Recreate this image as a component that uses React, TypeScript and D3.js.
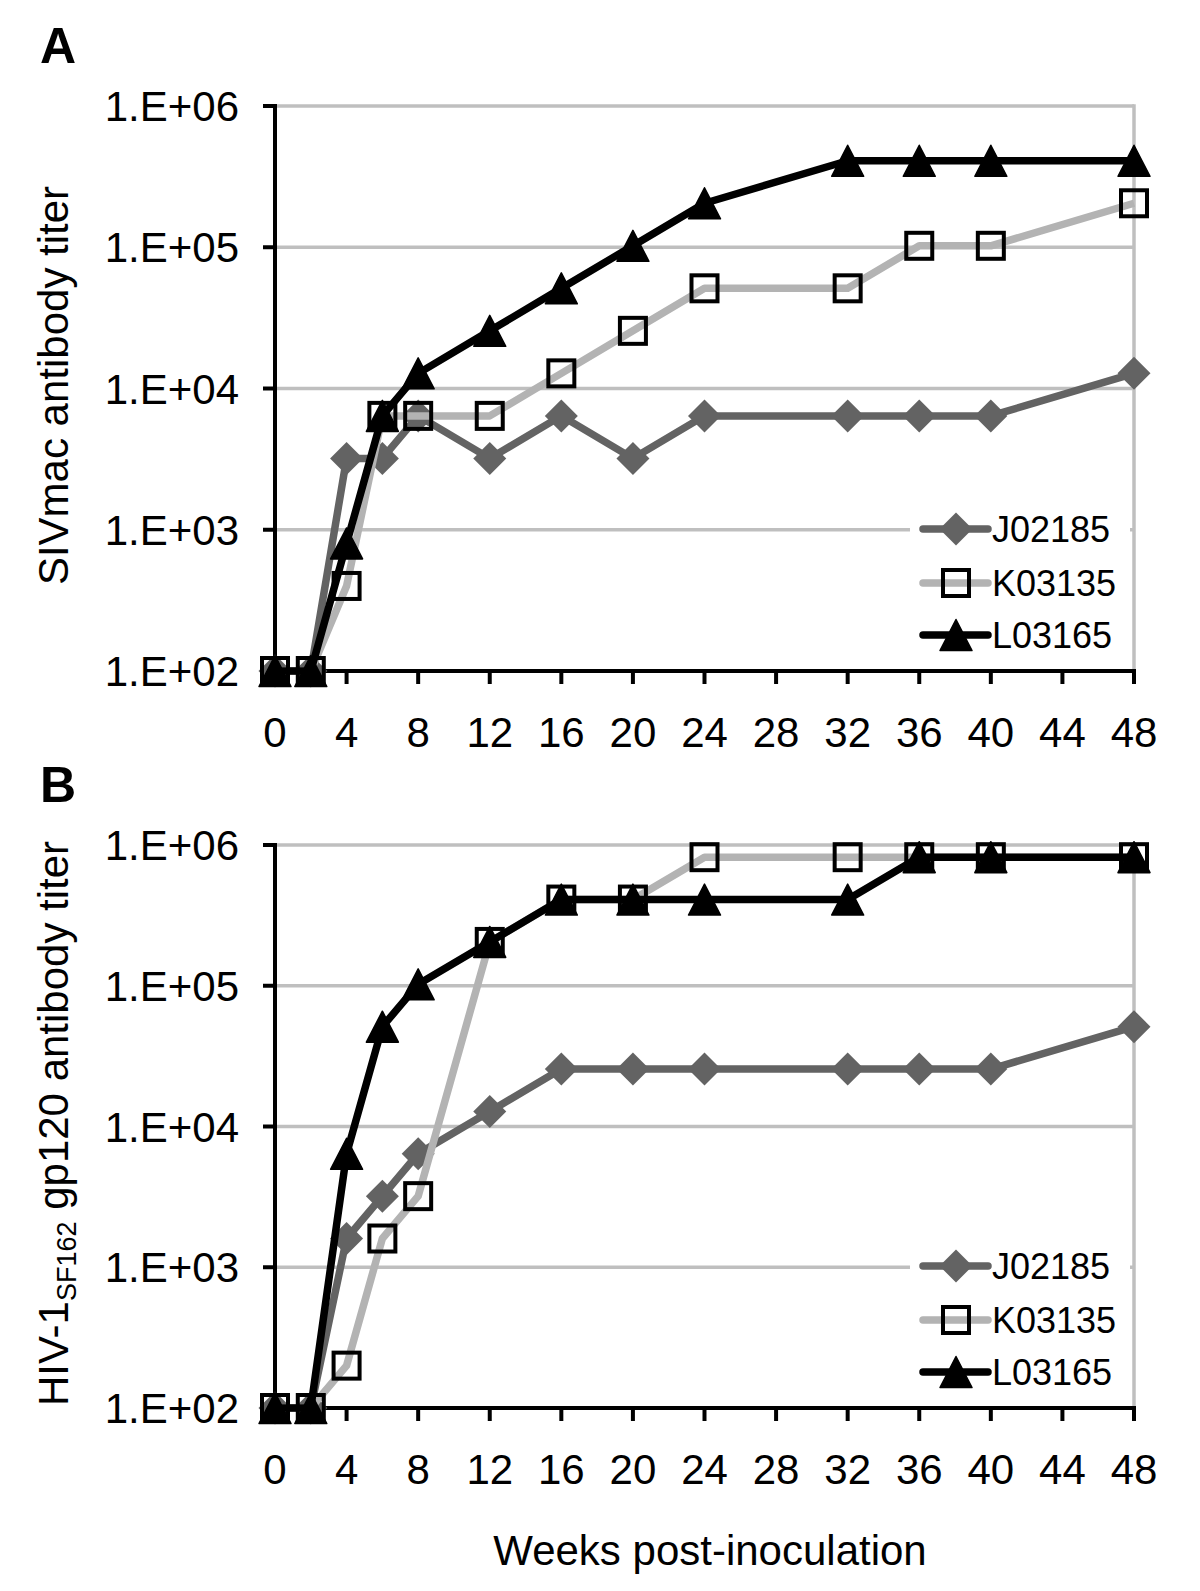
import React from "react";
import * as d3 from "d3";

const weeks = [0, 2, 4, 6, 8, 12, 16, 20, 24, 32, 36, 40, 48];
const xTicks = [0, 4, 8, 12, 16, 20, 24, 28, 32, 36, 40, 44, 48];
const yTicks = [1e2, 1e3, 1e4, 1e5, 1e6];
const yTickLabels = ["1.E+02", "1.E+03", "1.E+04", "1.E+05", "1.E+06"];
const seriesNames = ["J02185", "K03135", "L03165"];

const aJ02185 = [100, 100, 3200, 3200, 6400, 3200, 6400, 3200, 6400, 6400, 6400, 6400, 12800];
const aK03135 = [100, 100, 400, 6400, 6400, 6400, 12800, 25600, 51200, 51200, 102400, 102400, 204800];
const aL03165 = [100, 100, 800, 6400, 12800, 25600, 51200, 102400, 204800, 409600, 409600, 409600, 409600];

const bJ02185 = [100, 100, 1600, 3200, 6400, 12800, 25600, 25600, 25600, 25600, 25600, 25600, 51200];
const bK03135 = [100, 100, 200, 1600, 3200, 204800, 409600, 409600, 819200, 819200, 819200, 819200, 819200];
const bL03165 = [100, 100, 6400, 51200, 102400, 204800, 409600, 409600, 409600, 409600, 819200, 819200, 819200];

const FONT = "'Liberation Sans', Arial, Helvetica, sans-serif";
const styles = [
  { color: "#636363", marker: "diamond" },
  { color: "#b3b3b3", marker: "square" },
  { color: "#000000", marker: "triangle" },
];

function Marker({ type, x, y }: { type: string; x: number; y: number }) {
  if (type === "diamond") {
    const w = 16.5, h = 16.5;
    return <path d={`M${x},${y - h}L${x + w},${y}L${x},${y + h}L${x - w},${y}Z`} fill="#636363" />;
  }
  if (type === "square") {
    const s = 13;
    return <rect x={x - s} y={y - s} width={2 * s} height={2 * s} fill="none" stroke="#000" strokeWidth={4} />;
  }
  const w = 16, h = 15.5;
  return (
    <path
      d={`M${x},${y - h}L${x + w},${y + h}L${x - w},${y + h}Z`}
      fill="#000"
      stroke="#000"
      strokeWidth={1.5}
      strokeLinejoin="round"
    />
  );
}

function Panel({
  data,
  yTop,
  yBottom,
  label,
  labelY,
  title,
}: {
  data: number[][];
  yTop: number;
  yBottom: number;
  label: string;
  labelY: number;
  title: React.ReactNode;
}) {
  const x = d3.scaleLinear().domain([0, 48]).range([275, 1134]);
  const y = d3.scaleLog().domain([1e2, 1e6]).range([yBottom, yTop]);
  const line = d3
    .line<number>()
    .x((_, i) => x(weeks[i]))
    .y((d) => y(d));
  const x0 = x(0), x1 = x(48);
  const legTop = yBottom - 166;
  const legRows = [yBottom - 142, yBottom - 88, yBottom - 36];
  return (
    <g>
      <text x={40} y={labelY} fontFamily={FONT} fontWeight="bold" fontSize={50}>
        {label}
      </text>
      {yTicks.slice(1).map((t) => (
        <line key={t} x1={x0} x2={x1} y1={y(t)} y2={y(t)} stroke="#bfbfbf" strokeWidth={3.5} />
      ))}
      <line x1={x1} x2={x1} y1={y(1e6) - 1.75} y2={yBottom} stroke="#bfbfbf" strokeWidth={3.5} />
      <rect x={910} y={legTop} width={220} height={158} fill="#fff" />
      <line x1={x0} x2={x0} y1={y(1e6) - 2} y2={yBottom + 2} stroke="#000" strokeWidth={4} />
      {yTicks.map((t, i) => (
        <g key={t}>
          <line x1={x0 - 12} x2={x0} y1={y(t)} y2={y(t)} stroke="#000" strokeWidth={4} />
          <text x={239} y={y(t) + 15} textAnchor="end" fontFamily={FONT} fontSize={42}>
            {yTickLabels[i]}
          </text>
        </g>
      ))}
      <line x1={x0 - 2} x2={x1 + 2} y1={yBottom} y2={yBottom} stroke="#000" strokeWidth={4} />
      {xTicks.map((t) => (
        <g key={t}>
          {t > 0 && <line x1={x(t)} x2={x(t)} y1={yBottom} y2={yBottom + 13} stroke="#000" strokeWidth={4} />}
          <text x={x(t)} y={yBottom + 76} textAnchor="middle" fontFamily={FONT} fontSize={42}>
            {t}
          </text>
        </g>
      ))}
      <text
        transform={`translate(68,${(yTop + yBottom) / 2 - 3}) rotate(-90)`}
        textAnchor="middle"
        fontFamily={FONT}
        fontSize={42}
      >
        {title}
      </text>
      {data.map((vals, si) => (
        <g key={si}>
          <path
            d={line(vals) || ""}
            fill="none"
            stroke={styles[si].color}
            strokeWidth={7.5}
            strokeLinejoin="round"
          />
          {vals.map((v, i) => (
            <Marker key={i} type={styles[si].marker} x={x(weeks[i])} y={y(v)} />
          ))}
        </g>
      ))}
      {seriesNames.map((n, i) => (
        <g key={n}>
          <line
            x1={923}
            x2={988}
            y1={legRows[i]}
            y2={legRows[i]}
            stroke={styles[i].color}
            strokeWidth={7.5}
            strokeLinecap="round"
          />
          <Marker type={styles[i].marker} x={956} y={legRows[i]} />
          <text x={992} y={legRows[i] + 13} fontFamily={FONT} fontSize={36}>
            {n}
          </text>
        </g>
      ))}
    </g>
  );
}

export default function App() {
  return (
    <svg
      width={1200}
      height={1591}
      style={{ position: "absolute", left: 0, top: 0, background: "#fff" }}
    >
      <rect width={1200} height={1591} fill="#fff" />
      <Panel
        data={[aJ02185, aK03135, aL03165]}
        yTop={106}
        yBottom={671}
        label="A"
        labelY={63}
        title={"SIVmac antibody titer"}
      />
      <Panel
        data={[bJ02185, bK03135, bL03165]}
        yTop={845}
        yBottom={1408}
        label="B"
        labelY={802}
        title={
          <>
            <tspan>HIV-1</tspan>
            <tspan fontSize={27} dy={8}>SF162</tspan>
            <tspan dy={-8}> gp120 antibody titer</tspan>
          </>
        }
      />
      <text x={710} y={1565} textAnchor="middle" fontFamily={FONT} fontSize={42}>
        Weeks post-inoculation
      </text>
    </svg>
  );
}
